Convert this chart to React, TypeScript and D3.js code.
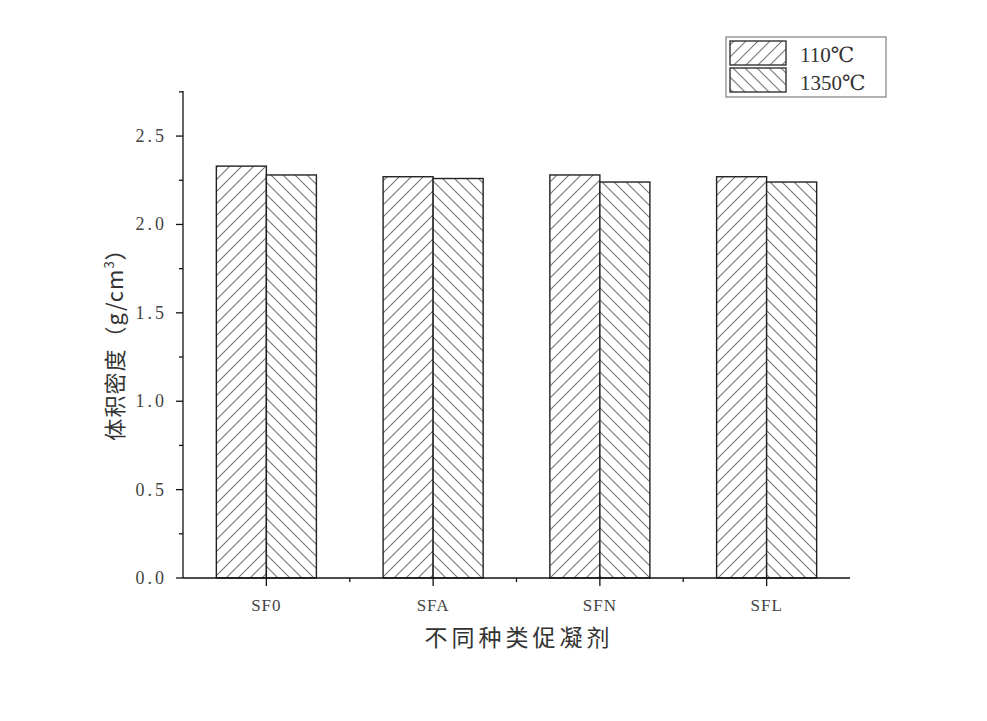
import React, { useEffect, useRef } from "react";
import * as d3 from "d3";

const categories = ["SF0", "SFA", "SFN", "SFL"];
const seriesNames = ["110℃", "1350℃"];
const values110 = [2.33, 2.27, 2.28, 2.27];
const values1350 = [2.28, 2.26, 2.24, 2.24];
const yTicks = [0, 0.5, 1.0, 1.5, 2.0, 2.5];

const W = 987;
const H = 721;
const left = 183;
const right = 850;
const top = 91;
const bottom = 578;

const serif = "'Liberation Serif', 'DejaVu Serif', 'Noto Sans CJK SC', serif";
const cjk = "'Noto Sans CJK SC', sans-serif";

export default function App() {
  const ref = useRef<SVGSVGElement>(null);

  useEffect(() => {
    document.body.style.margin = "0";
    const svg = d3.select(ref.current);
    svg.selectAll("*").remove();

    const x = d3.scaleBand().domain(categories).range([left, right]).paddingInner(0.4).paddingOuter(0.2);
    const inner = d3.scaleBand().domain(seriesNames).range([0, x.bandwidth()]);
    const y = d3.scaleLinear().domain([0, 2.755]).range([bottom, top]);

    // hatch patterns
    const defs = svg.append("defs");
    const mkPattern = (id: string, forward: boolean) => {
      const p = defs
        .append("pattern")
        .attr("id", id)
        .attr("patternUnits", "userSpaceOnUse")
        .attr("width", 12)
        .attr("height", 12);
      p.append("rect").attr("width", 12).attr("height", 12).attr("fill", "#fff");
      const d = forward
        ? "M-3,3 L3,-3 M0,12 L12,0 M9,15 L15,9"
        : "M-3,9 L3,15 M0,0 L12,12 M9,-3 L15,3";
      p.append("path").attr("d", d).attr("stroke", "#777").attr("stroke-width", 1.1);
    };
    mkPattern("h110", true);
    mkPattern("h1350", false);
    const fills = ["url(#h110)", "url(#h1350)"];

    const g = svg.append("g");
    const seriesData = [values110, values1350];
    seriesNames.forEach((s, si) => {
      g.selectAll(`.bar${si}`)
        .data(categories)
        .enter()
        .append("rect")
        .attr("x", (c) => (x(c) as number) + (inner(s) as number))
        .attr("y", (c, i) => y(seriesData[si][i]))
        .attr("width", inner.bandwidth())
        .attr("height", (c, i) => bottom - y(seriesData[si][i]))
        .attr("fill", fills[si])
        .attr("stroke", "#222")
        .attr("stroke-width", 1.4);
    });

    // y axis
    const ya = svg.append("g").attr("transform", `translate(${left},0)`);
    ya.append("line").attr("x1", 0).attr("x2", 0).attr("y1", top).attr("y2", bottom).attr("stroke", "#111").attr("stroke-width", 1.3);
    const minorY = d3.range(0, 2.76, 0.25);
    ya.selectAll(".ymin")
      .data(minorY)
      .enter()
      .append("line")
      .attr("x1", 0)
      .attr("x2", (d) => (Math.abs(d * 2 - Math.round(d * 2)) < 1e-6 ? -7 : -4))
      .attr("y1", (d) => y(d))
      .attr("y2", (d) => y(d))
      .attr("stroke", "#111")
      .attr("stroke-width", 1.3);
    ya.selectAll(".ylab")
      .data(yTicks)
      .enter()
      .append("text")
      .attr("x", -16)
      .attr("y", (d) => y(d) + 6)
      .attr("text-anchor", "end")
      .attr("font-family", serif)
      .attr("font-size", 18)
      .attr("letter-spacing", 3)
      .attr("fill", "#444")
      .text((d) => d3.format(".1f")(d));

    // x axis
    const xa = svg.append("g").attr("transform", `translate(0,${bottom})`);
    xa.append("line").attr("x1", left).attr("x2", right).attr("y1", 0).attr("y2", 0).attr("stroke", "#111").attr("stroke-width", 1.3);
    xa.selectAll(".xt")
      .data(categories)
      .enter()
      .append("line")
      .attr("x1", (c) => (x(c) as number) + x.bandwidth() / 2)
      .attr("x2", (c) => (x(c) as number) + x.bandwidth() / 2)
      .attr("y1", 0)
      .attr("y2", 8)
      .attr("stroke", "#111")
      .attr("stroke-width", 1.3);
    xa.selectAll(".xm")
      .data(categories.slice(1))
      .enter()
      .append("line")
      .attr("x1", (c) => (x(c) as number) - (x.step() - x.bandwidth()) / 2)
      .attr("x2", (c) => (x(c) as number) - (x.step() - x.bandwidth()) / 2)
      .attr("y1", 0)
      .attr("y2", 4)
      .attr("stroke", "#111")
      .attr("stroke-width", 1.3);
    xa.selectAll(".xl")
      .data(categories)
      .enter()
      .append("text")
      .attr("x", (c) => (x(c) as number) + x.bandwidth() / 2)
      .attr("y", 33)
      .attr("text-anchor", "middle")
      .attr("font-family", serif)
      .attr("font-size", 17)
      .attr("letter-spacing", 1)
      .attr("fill", "#444")
      .text((c) => c);

    // axis titles
    svg.append("text")
      .attr("x", 519)
      .attr("y", 646)
      .attr("text-anchor", "middle")
      .attr("font-family", cjk)
      .attr("font-size", 23)
      .attr("letter-spacing", 4)
      .attr("fill", "#333")
      .text("不同种类促凝剂");

    const yt = svg.append("text")
      .attr("transform", `translate(123,339) rotate(-90)`)
      .attr("text-anchor", "middle")
      .attr("font-family", cjk)
      .attr("font-size", 22)
      .attr("letter-spacing", 1)
      .attr("fill", "#333");
    yt.append("tspan").text("体积密度（g/cm");
    yt.append("tspan").attr("font-size", 13).attr("dy", -9).text("3");
    yt.append("tspan").attr("dy", 9).text("）");

    // legend
    const lg = svg.append("g").attr("transform", "translate(726,37)");
    lg.append("rect").attr("width", 160).attr("height", 60).attr("fill", "#fff").attr("stroke", "#888").attr("stroke-width", 1.3);
    seriesNames.forEach((s, i) => {
      lg.append("rect")
        .attr("x", 4)
        .attr("y", 4 + i * 27)
        .attr("width", 56)
        .attr("height", 24)
        .attr("fill", fills[i])
        .attr("stroke", "#333")
        .attr("stroke-width", 1.4);
      lg.append("text")
        .attr("x", 74)
        .attr("y", 25 + i * 28)
        .attr("font-family", serif)
        .attr("font-size", 21)
        .attr("fill", "#333")
        .text(s);
    });
  }, []);

  return <svg ref={ref} width={W} height={H} style={{ display: "block", background: "#fff" }} />;
}
